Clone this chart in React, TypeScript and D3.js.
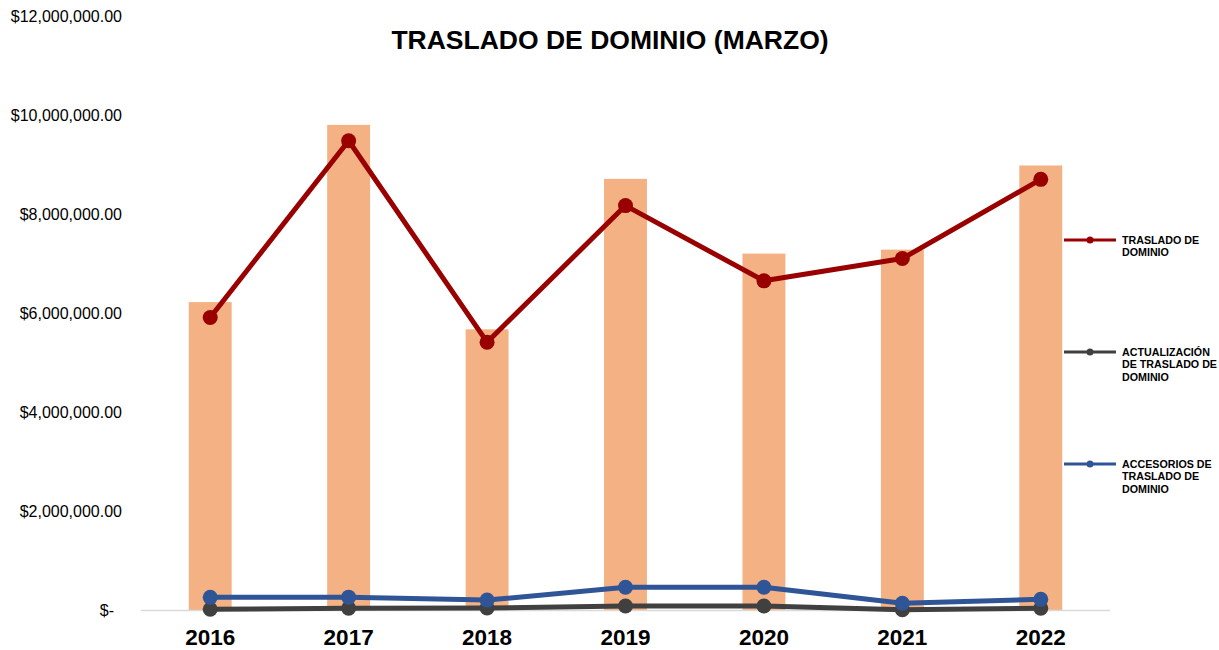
import React from "react";
import * as d3 from "d3";

const years = ["2016", "2017", "2018", "2019", "2020", "2021", "2022"];
const totalBars = [6220000, 9800000, 5670000, 8710000, 7200000, 7280000, 8980000];
const traslado = [5910000, 9480000, 5410000, 8170000, 6650000, 7100000, 8700000];
const actualizacion = [15000, 35000, 40000, 80000, 80000, 5000, 35000];
const accesorios = [256000, 260000, 200000, 460000, 460000, 135000, 215000];
const yTicks = [0, 2000000, 4000000, 6000000, 8000000, 10000000, 12000000];

const seriesList = [
  { name: ["TRASLADO DE", "DOMINIO"], values: traslado, color: "#990000", r: 7.5 },
  { name: ["ACTUALIZACIÓN", "DE TRASLADO DE", "DOMINIO"], values: actualizacion, color: "#404040", r: 7.5 },
  { name: ["ACCESORIOS DE", "TRASLADO DE", "DOMINIO"], values: accesorios, color: "#2F5597", r: 7.5 },
];
const drawOrder = [1, 2, 0];
const legendY = [240, 352, 464];

export default function App() {
  const W = 1219, H = 650;
  const x = d3.scaleBand<string>().domain(years).range([141, 1110]).paddingInner(0.69).paddingOuter(0.345);
  const y = d3.scaleLinear().domain([0, 12000000]).range([610, 16]);
  const cx = (yr: string) => (x(yr) as number) + x.bandwidth() / 2;
  const fmt = (v: number) => (v === 0 ? "$-" : "$" + d3.format(",.2f")(v));
  const font = "'Liberation Sans', Arial, sans-serif";
  const line = d3.line<number>().x((_, i) => cx(years[i])).y((v) => y(v));

  return (
    <svg width={W} height={H} style={{ position: "absolute", left: 0, top: 0, background: "#fff" }} fontFamily={font}>
      <text x={610} y={49} textAnchor="middle" fontSize={26.5} fontWeight="bold" fill="#000">TRASLADO DE DOMINIO (MARZO)</text>
      {yTicks.map((t) => (
        <text key={t} x={t === 0 ? 114 : 122} y={y(t) + 5.5} textAnchor="end" fontSize={16} fill="#000">{fmt(t)}</text>
      ))}
      {years.map((yr, i) => (
        <rect key={yr} x={x(yr)} y={y(totalBars[i])} width={x.bandwidth()} height={y(0) - y(totalBars[i])} fill="#F4B183" />
      ))}
      <line x1={141} x2={1110} y1={y(0) + 0.5} y2={y(0) + 0.5} stroke="#D9D9D9" strokeWidth={1.5} />
      {years.map((yr) => (
        <text key={yr} x={cx(yr)} y={645} textAnchor="middle" fontSize={22.5} fontWeight="bold" fill="#000">{yr}</text>
      ))}
      {drawOrder.map((si) => {
        const s = seriesList[si];
        return (
          <g key={si}>
            <path d={line(s.values) as string} fill="none" stroke={s.color} strokeWidth={5} strokeLinejoin="round" />
            {s.values.map((v, i) => (
              <circle key={i} cx={cx(years[i])} cy={y(v)} r={s.r} fill={s.color} />
            ))}
          </g>
        );
      })}
      {seriesList.map((s, si) => (
        <g key={"lg" + si}>
          <line x1={1064} x2={1116} y1={legendY[si]} y2={legendY[si]} stroke={s.color} strokeWidth={3} />
          <circle cx={1090} cy={legendY[si]} r={3.5} fill={s.color} />
          {s.name.map((ln, k) => (
            <text key={k} x={1122} y={legendY[si] + 4 + k * 12.3} fontSize={10.7} fontWeight="bold" fill="#000">{ln}</text>
          ))}
        </g>
      ))}
    </svg>
  );
}
